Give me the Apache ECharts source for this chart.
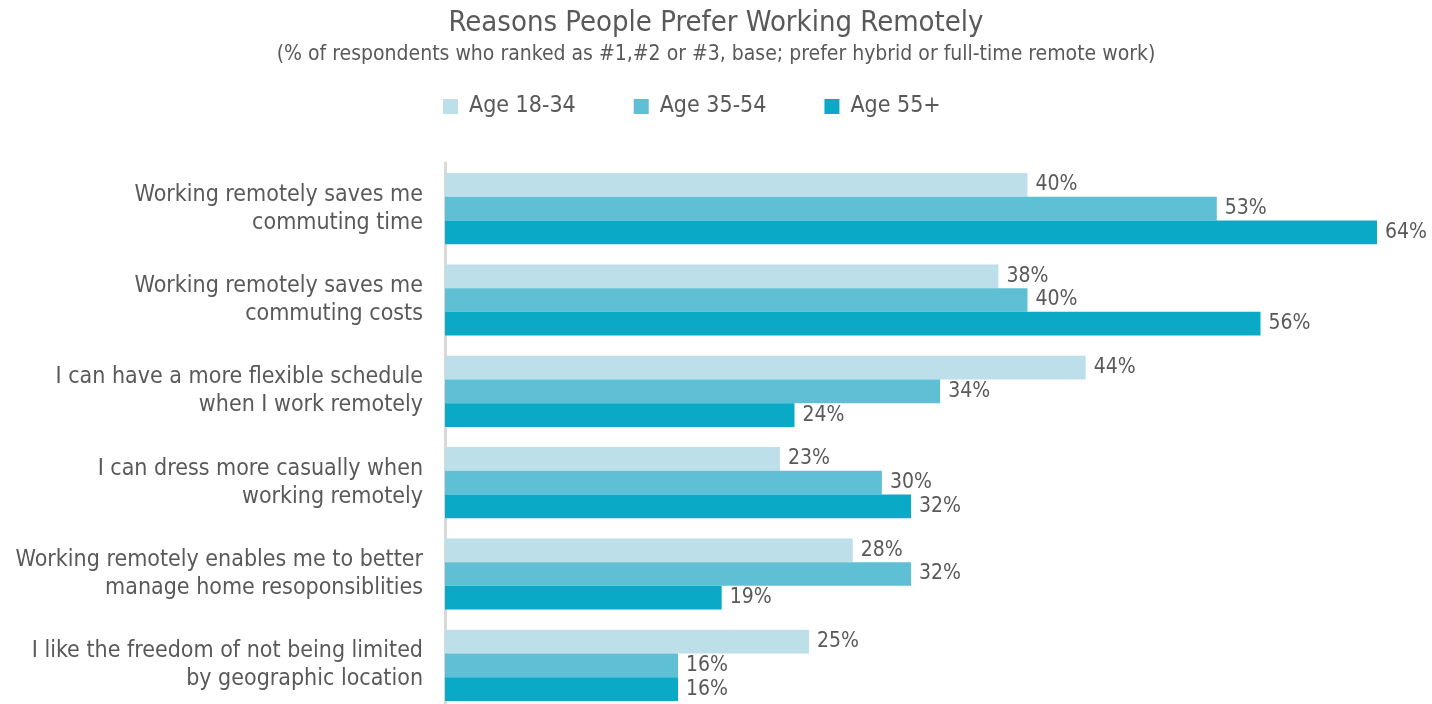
<!DOCTYPE html>
<html><head><meta charset="utf-8">
<script src="https://cdn.jsdelivr.net/npm/echarts@6/dist/echarts.min.js"></script>
<style>html,body{margin:0;padding:0;background:#fff;overflow:hidden}#c{width:1432px;height:711px}</style>
</head><body><div id="c"></div>
<script>
const categories = [
  "Working remotely saves me\ncommuting time",
  "Working remotely saves me\ncommuting costs",
  "I can have a more flexible schedule\nwhen I work remotely",
  "I can dress more casually when\nworking remotely",
  "Working remotely enables me to better\nmanage home resoponsiblities",
  "I like the freedom of not being limited\nby geographic location"
];
const seriesNames = ["Age 18-34", "Age 35-54", "Age 55+"];
const age1834 = [40, 38, 44, 23, 28, 25];
const age3554 = [53, 40, 34, 30, 32, 16];
const age55 = [64, 56, 24, 32, 19, 16];
const colors = ["#BDDFEA", "#5FBFD4", "#0AA9C5"];
const FONT = "'Liberation Sans Narrow','DejaVu Sans Condensed','Roboto',sans-serif";
const TXT = "#595959";

const chart = echarts.init(document.getElementById('c'));
const mk = (name, data, i) => ({
  name, type: 'bar', data, barGap: '0%', barCategoryGap: '22%',
  itemStyle: {color: colors[i]},
  label: {show: true, position: 'right', distance: 8, formatter: '{c}%', color: TXT, fontSize: 21, fontFamily: FONT},
  animation: false
});
chart.setOption({
  animation: false,
  title: {
    text: 'Reasons People Prefer Working Remotely',
    subtext: '(% of respondents who ranked as #1,#2 or #3, base; prefer hybrid or full-time remote work)',
    left: 'center', top: 4, itemGap: 6,
    textStyle: {fontFamily: FONT, fontSize: 29, fontWeight: 'normal', color: TXT},
    subtextStyle: {fontFamily: FONT, fontSize: 21, color: TXT}
  },
  legend: {
    data: seriesNames, left: 438, top: 90, itemWidth: 15, itemHeight: 15, itemGap: 58,
    icon: 'rect',
    textStyle: {fontFamily: FONT, fontSize: 23, color: TXT, padding: [0, 0, 0, 6]}
  },
  grid: {left: 445, top: 163, right: 55, bottom: 0, containLabel: false},
  xAxis: {type: 'value', min: 0, max: 64, show: false},
  yAxis: {
    type: 'category', data: categories, inverse: true,
    axisLine: {show: true, lineStyle: {color: '#D9D9D9', width: 3}},
    axisTick: {show: false},
    axisLabel: {fontFamily: FONT, fontSize: 23, color: TXT, lineHeight: 28, align: 'right', margin: 22}
  },
  series: [mk(seriesNames[0], age1834, 0), mk(seriesNames[1], age3554, 1), mk(seriesNames[2], age55, 2)]
});
</script></body></html>
